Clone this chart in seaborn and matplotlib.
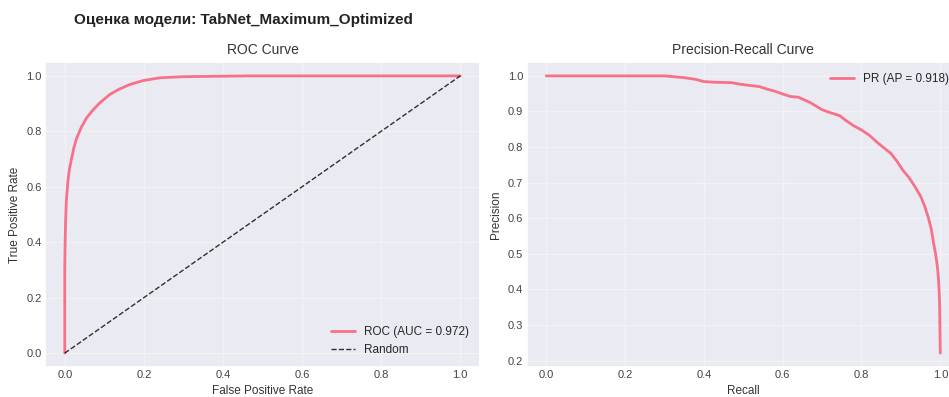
import numpy as np
import matplotlib
matplotlib.use("Agg")
import matplotlib.pyplot as plt
import seaborn as sns

# ---------------- Settings ----------------
sns.set_theme(style="darkgrid", palette="husl")
plt.rcParams['font.family'] = ['Liberation Sans', 'DejaVu Sans']
plt.rcParams['legend.frameon'] = False

# ---------------- Data ----------------
roc_fpr = [0.0, 0.0, 0.001, 0.002, 0.004, 0.008, 0.012, 0.017, 0.023, 0.030,
           0.042, 0.055, 0.072, 0.089, 0.114, 0.139, 0.165, 0.198, 0.240,
           0.300, 0.470, 1.0]
roc_tpr = [0.0, 0.30, 0.40, 0.47, 0.55, 0.62, 0.665, 0.70, 0.74, 0.775,
           0.815, 0.848, 0.878, 0.903, 0.933, 0.953, 0.969, 0.983, 0.993,
           0.997, 1.0, 1.0]
roc_auc = 0.972

pr_recall = [0.0, 0.21, 0.30, 0.33, 0.35, 0.38, 0.40, 0.43, 0.47, 0.49,
             0.51, 0.54, 0.56, 0.58, 0.60, 0.62, 0.64, 0.67, 0.70, 0.72,
             0.745, 0.76, 0.78, 0.80, 0.82, 0.84, 0.86, 0.875, 0.89, 0.905,
             0.92, 0.935, 0.95, 0.96, 0.97, 0.977, 0.983, 0.988, 0.993,
             0.996, 0.998, 0.999, 1.0]
pr_precision = [1.0, 1.0, 1.0, 0.997, 0.995, 0.99, 0.984, 0.982, 0.981, 0.977,
                0.974, 0.97, 0.963, 0.957, 0.949, 0.942, 0.94, 0.925, 0.905, 0.897,
                0.888, 0.875, 0.86, 0.848, 0.833, 0.813, 0.795, 0.782, 0.76, 0.735,
                0.715, 0.69, 0.662, 0.635, 0.60, 0.57, 0.53, 0.50, 0.46,
                0.42, 0.37, 0.30, 0.221]
pr_ap = 0.918

model_name = "TabNet_Maximum_Optimized"

# ---------------- Figure ----------------
fig = plt.figure(figsize=(9.49, 3.97), dpi=100)
ax1 = fig.add_axes([0.0474, 0.0756, 0.4584, 0.7682])
ax2 = fig.add_axes([0.5548, 0.0756, 0.4568, 0.7682])
color = sns.color_palette("husl")[0]

# ROC
ax1.plot(roc_fpr, roc_tpr, color=color, lw=2, label=f"ROC (AUC = {roc_auc:.3f})")
ax1.plot([0, 1], [0, 1], "k--", lw=1, alpha=0.8, label="Random")
ax1.set_title("ROC Curve", fontsize=10, color="#333333")
ax1.set_xlabel("False Positive Rate", fontsize=8.5, color="#333333")
ax1.set_ylabel("True Positive Rate", fontsize=8.5, color="#333333")
ax1.legend(loc="lower right", fontsize=8.5)

# Precision-Recall
ax2.plot(pr_recall, pr_precision, color=color, lw=2, label=f"PR (AP = {pr_ap:.3f})")
ax2.set_title("Precision-Recall Curve", fontsize=10, color="#333333")
ax2.set_xlabel("Recall", fontsize=8.5, color="#333333")
ax2.set_ylabel("Precision", fontsize=8.5, color="#333333")
ax2.legend(loc="upper right", fontsize=8.5)

for ax in (ax1, ax2):
    ax.tick_params(labelsize=8, pad=2.5, length=0, labelcolor="#444444")
    ax.grid(True, alpha=0.35)
    ax.xaxis.labelpad = 3
    ax.yaxis.labelpad = 4

fig.text(0.078, 0.95, f"Оценка модели: {model_name}", fontsize=11,
         fontweight="bold", ha="left", va="center", color="#222222")

plt.savefig("out.png", dpi=100)
